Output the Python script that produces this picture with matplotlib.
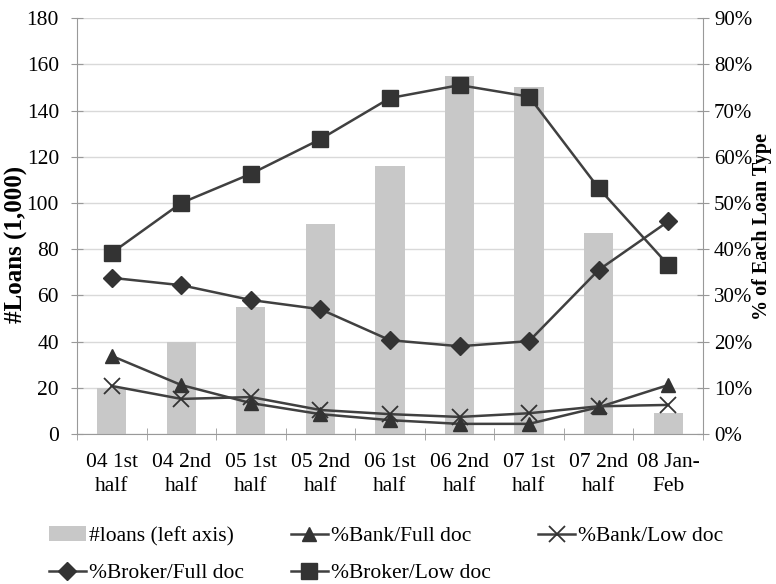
import numpy as np
import matplotlib.pyplot as plt
from matplotlib.ticker import PercentFormatter

categories = ["04 1st\nhalf", "04 2nd\nhalf", "05 1st\nhalf", "05 2nd\nhalf", "06 1st\nhalf",
              "06 2nd\nhalf", "07 1st\nhalf", "07 2nd\nhalf", "08 Jan-\nFeb"]
loans = [20, 40, 55, 91, 116, 155, 150, 87, 9]
bank_full = [16.9, 10.6, 6.7, 4.3, 3.0, 2.2, 2.2, 5.8, 10.6]
bank_low = [10.4, 7.6, 8.0, 5.2, 4.3, 3.7, 4.5, 6.0, 6.3]
broker_full = [33.8, 32.2, 29.0, 27.0, 20.3, 19.0, 20.1, 35.5, 46.0]
broker_low = [39.2, 50.0, 56.3, 63.8, 72.7, 75.5, 73.0, 53.2, 36.6]

plt.rcParams['font.family'] = ['Liberation Serif', 'DejaVu Serif']
fs = 15.5
axc = '#999999'

fig = plt.figure(figsize=(7.76, 5.84), dpi=100)
ax = fig.add_axes([0.0992, 0.2568, 0.8067, 0.7122])
x = np.arange(len(categories))

bars = ax.bar(x, loans, width=0.42, color='#c8c8c8', label='#loans (left axis)', zorder=2)
ax.set_ylim(0, 180)
ax.set_yticks(range(0, 181, 20))
ax.set_xlim(-0.5, len(categories) - 0.5)
ax.set_xticks(x)
ax.set_xticklabels(categories, linespacing=1.3)
ax.set_xticks(np.arange(-0.5, len(categories), 1), minor=True)
ax.tick_params(axis='x', which='major', length=0, labelsize=fs, pad=14)
ax.tick_params(axis='x', which='minor', length=8, direction='inout', color=axc)
ax.tick_params(axis='y', labelsize=fs, length=8, direction='inout', color=axc, pad=9)
ax.set_ylabel('#Loans (1,000)', fontsize=18, fontweight='bold')
ax.yaxis.set_label_coords(-0.078, 0.457)
ax.grid(axis='y', color='#d9d9d9', linewidth=1, zorder=0)
ax.set_axisbelow(True)
for s in ['top', 'right']:
    ax.spines[s].set_visible(False)
for s in ['left', 'bottom']:
    ax.spines[s].set_color(axc)

ax2 = ax.twinx()
ax2.set_ylim(0, 90)
ax2.set_yticks(range(0, 91, 10))
ax2.yaxis.set_major_formatter(PercentFormatter(decimals=0))
ax2.tick_params(axis='y', labelsize=15, length=8, direction='inout', color=axc, pad=4)
ax2.set_ylabel('% of Each Loan Type', fontsize=14.5, fontweight='bold')
ax2.yaxis.set_label_coords(1.079, 0.5)
for s in ['top', 'left', 'bottom']:
    ax2.spines[s].set_visible(False)
ax2.spines['right'].set_color(axc)

lc = '#404040'
mc = '#333333'
l1, = ax2.plot(x, bank_full, color=lc, lw=1.8, marker='^', ms=10, mfc=mc, mec=mc, label='%Bank/Full doc')
l2, = ax2.plot(x, bank_low, color=lc, lw=1.8, marker='x', ms=11, mew=1.3, mec=mc, label='%Bank/Low doc')
l3, = ax2.plot(x, broker_full, color=lc, lw=1.8, marker='D', ms=9, mfc=mc, mec=mc, label='%Broker/Full doc')
l4, = ax2.plot(x, broker_low, color=lc, lw=1.8, marker='s', ms=11, mfc=mc, mec=mc, label='%Broker/Low doc')

handles = [bars, l3, l1, l4, l2]
labels = [h.get_label() for h in handles]
fig.legend(handles, labels, loc='upper left', bbox_to_anchor=(49 / 776, 1 - 526 / 584), ncol=3,
           frameon=False, fontsize=fs, handlelength=1.7, handletextpad=0.15,
           columnspacing=2.2, labelspacing=0.8, borderpad=0, borderaxespad=0)

fig.savefig('out.png', dpi=100)
